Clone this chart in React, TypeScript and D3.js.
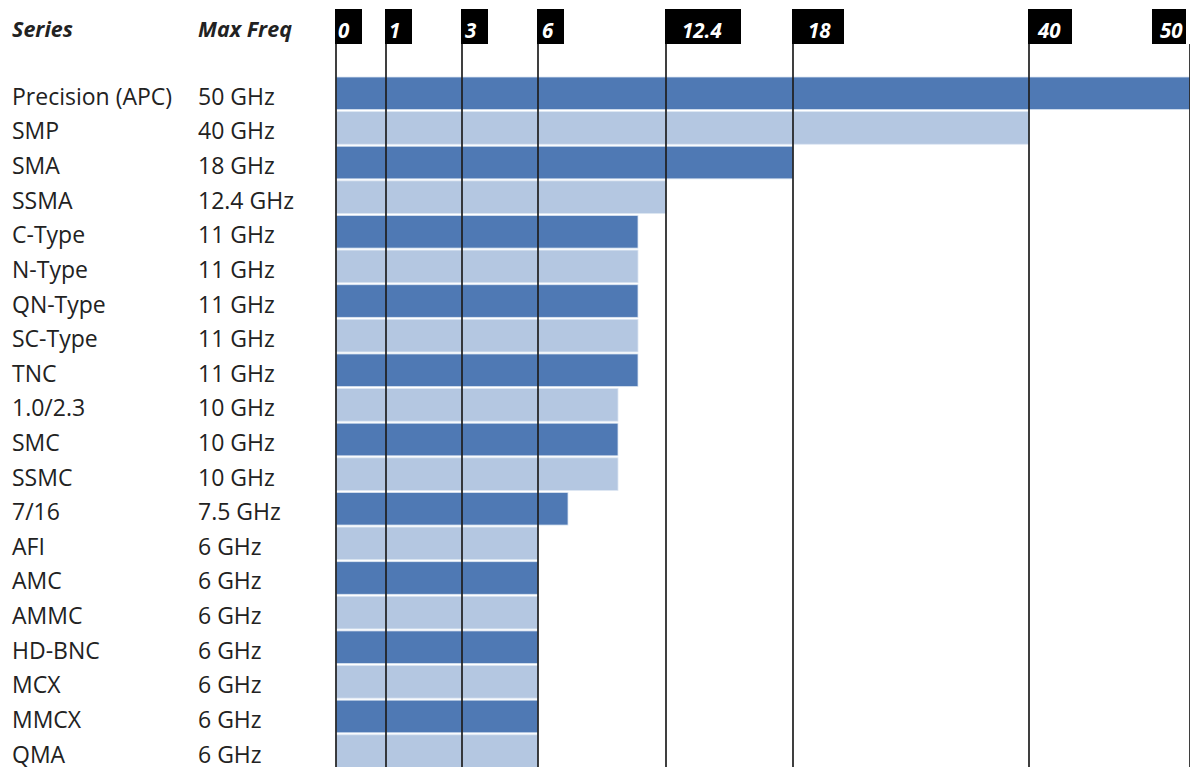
import React from "react";
import * as d3 from "d3";

// Connector series and their maximum rated frequency (GHz)
const categories = [
  "Precision (APC)", "SMP", "SMA", "SSMA", "C-Type", "N-Type", "QN-Type",
  "SC-Type", "TNC", "1.0/2.3", "SMC", "SSMC", "7/16", "AFI", "AMC", "AMMC",
  "HD-BNC", "MCX", "MMCX", "QMA",
];
const maxFreq = [50, 40, 18, 12.4, 11, 11, 11, 11, 11, 10, 10, 10, 7.5, 6, 6, 6, 6, 6, 6, 6];

// Break points of the (piecewise) frequency axis
const tickValues = [0, 1, 3, 6, 12.4, 18, 40, 50];

// Layout
const W = 1190;
const H = 767;
const tickStops = [336, 386, 462, 538, 666, 793, 1029, 1190];
const rowTop = 76;
const rowStep = 34.62;
const labelX = 12;
const freqX = 198;
const headerBaseline = 37;
const flagTop = 9;
const flagBottom = 44;
const flagWidths = [27, 27, 27, 27, 76, 52, 44, 34];
const flagDx = [-1, -1, -1, -1, -1, -1, -1, -38];
const flagTextDx = [3, 4, 4, 5, 17, 16, 10, 8];

const DARK = "#4F79B4";
const LIGHT = "#B4C7E1";
const TEXT = "#222222";
const FONT = "'Open Sans', 'Noto Sans', sans-serif";

export default function App() {
  const x = d3.scaleLinear().domain(tickValues).range(tickStops);
  const y = d3
    .scaleBand<string>()
    .domain(categories)
    .range([rowTop, rowTop + categories.length * rowStep])
    .padding(0);
  const bw = y.bandwidth();

  return (
    <svg
      width={W}
      height={H}
      viewBox={`0 0 ${W} ${H}`}
      style={{ position: "absolute", left: 0, top: 0, background: "#fff" }}
      fontFamily={FONT}
    >
      {/* column headers */}
      <text x={labelX} y={headerBaseline} fontSize={21.5} fontWeight={700} fontStyle="italic" fill={TEXT}>
        Series
      </text>
      <text x={freqX} y={headerBaseline} fontSize={21.5} fontWeight={700} fontStyle="italic" fill={TEXT}>
        Max Freq
      </text>

      {/* bars */}
      {categories.map((c, i) => (
        <rect
          key={c}
          x={x(0)}
          y={(y(c) as number) + 1}
          width={x(maxFreq[i]) - x(0)}
          height={bw - 2}
          fill={i % 2 === 0 ? DARK : LIGHT}
          stroke="#DCE6F2"
          strokeWidth={0.8}
        />
      ))}

      {/* row labels */}
      {categories.map((c, i) => {
        const cy = (y(c) as number) + bw / 2 + 11.5;
        return (
          <g key={"lbl" + c} fontSize={23} fill={TEXT}>
            <text x={labelX} y={cy}>{c}</text>
            <text x={freqX} y={cy}>{`${maxFreq[i]} GHz`}</text>
          </g>
        );
      })}

      {/* frequency break lines and flags */}
      {tickValues.map((t, i) => {
        const px = x(t);
        const bx = px + flagDx[i];
        return (
          <g key={"t" + t}>
            <line x1={px} x2={px} y1={flagBottom} y2={H} stroke="#1e1e1e" strokeWidth={1.7} />
            <rect x={bx} y={flagTop} width={flagWidths[i]} height={flagBottom - flagTop} fill="#000" />
            <text
              x={bx + flagTextDx[i]}
              y={38}
              fontSize={20.5}
              fontWeight={700}
              fontStyle="italic"
              fill="#fff"
            >
              {t}
            </text>
          </g>
        );
      })}
    </svg>
  );
}
